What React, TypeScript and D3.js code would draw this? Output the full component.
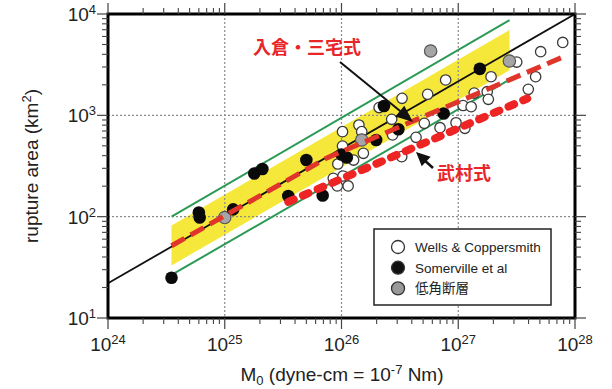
import React from "react";
import * as d3 from "d3";

// ---- data ----
const xDecades = [24, 25, 26, 27, 28];
const yDecades = [1, 2, 3, 4];

// Somerville et al (black)
const somM = [3.5e24, 6.0e24, 6.1e24, 1.18e25, 1.79e25, 2.1e25, 3.5e25, 5.0e25, 6.9e25, 1.0e26, 1.11e26, 1.98e26, 2.31e26, 3.07e26, 7.5e26, 1.53e27];
const somA = [25, 110, 98, 118, 267, 295, 160, 362, 162, 411, 384, 571, 1236, 728, 1042, 2877];

// low-angle faults (gray)
const lowM = [1.0e25, 1.49e26, 5.8e26, 2.74e27];
const lowA = [98, 571, 4315, 3436];

// Wells & Coppersmith (white)
const wcM = [9.3e25, 8.5e25, 9.2e25, 1.14e26, 1.27e26, 1.02e26, 1.02e26, 1.41e26, 1.49e26, 1.54e26, 2.1e26, 2.69e26, 2.74e26, 3.3e26, 4.35e26, 5.12e26, 5.47e26, 6.98e26, 7.8e26, 9.57e26, 1.1e27, 1.14e27, 1.29e27, 1.37e27, 1.77e27, 1.81e27, 1.91e27, 3.17e27, 3.98e27, 4.6e27, 5.08e27, 7.85e27, 3.28e26, 1.03e26];
const wcA = [331, 239, 201, 201, 362, 498, 690, 803, 690, 422, 1194, 914, 640, 1472, 607, 834, 1614, 755, 2233, 845, 1250, 745, 1216, 1660, 1710, 1439, 2404, 3357, 1807, 2404, 4246, 5236, 391, 252];

// relations (endpoints)
const blackLineM = [1e24, 1e28];
const blackLineA = [22, 1e4];
const bandM = [3.5e24, 2.75e27];
const bandLow = [33, 2780];
const bandHigh = [82, 6950];
const greenUpM = [3.5e24, 2.75e27];
const greenUpA = [100, 8700];
const greenLoM = [3.5e24, 2.75e27];
const greenLoA = [26.6, 2250];
const irikuraM = [3.5e24, 7.5e25, 7.9e27];
const irikuraA = [51.6, 380, 3770];
const takemuraM = [3.5e25, 3.9e27];
const takemuraA = [140, 1466];

const legendLabels = ["Wells & Coppersmith", "Somerville et al", "低角断層"];
const labelIrikura = "入倉・三宅式";
const labelTakemura = "武村式";

const W = 612, H = 389;
const X0 = 108, X1 = 575, Y0 = 14, Y1 = 318;

const x = d3.scaleLog().domain([1e24, 1e28]).range([X0, X1]);
const y = d3.scaleLog().domain([10, 1e4]).range([Y1, Y0]);

const zip = (ms: number[], as: number[]) => ms.map((m, i) => [m, as[i]] as [number, number]);
const line = d3.line<[number, number]>().x(d => x(d[0])).y(d => y(d[1]));

const minorX: number[] = [];
for (let e = 24; e < 28; e++) for (let k = 2; k <= 9; k++) minorX.push(k * Math.pow(10, e));
const minorY: number[] = [];
for (let e = 1; e < 4; e++) for (let k = 2; k <= 9; k++) minorY.push(k * Math.pow(10, e));

function arrowHead(tx: number, ty: number, fx: number, fy: number, len: number, half: number) {
  const a = Math.atan2(ty - fy, tx - fx);
  const bx = tx - len * Math.cos(a), by = ty - len * Math.sin(a);
  const px = -Math.sin(a) * half, py = Math.cos(a) * half;
  return `M${tx},${ty}L${bx + px},${by + py}L${bx - px},${by - py}Z`;
}

export default function App() {
  const font = "'Liberation Sans', Arial, Helvetica, sans-serif";
  const tickCol = "#444";
  const bandPath = (() => {
    const pts: [number, number][] = [
      [bandM[0], bandLow[0]], [bandM[1], bandLow[1]], [bandM[1], bandHigh[1]], [bandM[0], bandHigh[0]],
    ];
    return "M" + pts.map(p => `${x(p[0])},${y(p[1])}`).join("L") + "Z";
  })();

  const a1from = [340, 62], a1to = [413, 122];
  const a2from = [433, 168], a2to = [416, 152];

  return (
    <svg width={W} height={H} style={{ position: "absolute", left: 0, top: 0, background: "#fff" }} fontFamily={font}>
      <rect x={0} y={0} width={W} height={H} fill="#fff" />
      {/* band */}
      <path d={bandPath} fill="#f6e83a" />
      {/* grid */}
      {xDecades.slice(1, -1).map(e => (
        <line key={"gx" + e} x1={x(Math.pow(10, e))} x2={x(Math.pow(10, e))} y1={Y0} y2={Y1} stroke="#8a8a8a" strokeWidth={1.2} strokeDasharray="2,2" />
      ))}
      {yDecades.slice(1, -1).map(e => (
        <line key={"gy" + e} x1={X0} x2={X1} y1={y(Math.pow(10, e))} y2={y(Math.pow(10, e))} stroke="#8a8a8a" strokeWidth={1.2} strokeDasharray="2,2" />
      ))}
      {/* green lines */}
      <path d={line(zip(greenUpM, greenUpA)) || ""} stroke="#2a9a55" strokeWidth={2} fill="none" />
      <path d={line(zip(greenLoM, greenLoA)) || ""} stroke="#2a9a55" strokeWidth={2} fill="none" />
      {/* black relation */}
      <path d={line(zip(blackLineM, blackLineA)) || ""} stroke="#111" strokeWidth={1.8} fill="none" />
      {/* points */}
      {zip(wcM, wcA).map((d, i) => (
        <circle key={"w" + i} cx={x(d[0])} cy={y(d[1])} r={5.2} fill="#fff" stroke="#3a3a3a" strokeWidth={1.3} />
      ))}
      {zip(lowM, lowA).map((d, i) => (
        <circle key={"g" + i} cx={x(d[0])} cy={y(d[1])} r={6.2} fill="#a5a5a5" stroke="#555" strokeWidth={1.2} />
      ))}
      {zip(somM, somA).map((d, i) => (
        <circle key={"b" + i} cx={x(d[0])} cy={y(d[1])} r={6.3} fill="#0a0a0a" />
      ))}
      {/* red relations */}
      <path d={line(zip(irikuraM, irikuraA)) || ""} stroke="#e0352b" strokeWidth={5} fill="none" strokeDasharray="15,7" />
      <path d={line(zip(takemuraM, takemuraA)) || ""} stroke="#ee2324" strokeWidth={8} fill="none" strokeDasharray="6,10" strokeLinecap="round" />
      {/* frame */}
      <rect x={X0} y={Y0} width={X1 - X0} height={Y1 - Y0} fill="none" stroke="#000" strokeWidth={3} />
      {/* ticks */}
      {xDecades.map(e => {
        const px = x(Math.pow(10, e));
        return (
          <g key={"tx" + e}>
            <line x1={px} x2={px} y1={Y0} y2={Y0 - 11} stroke={tickCol} strokeWidth={1.2} />
            <line x1={px} x2={px} y1={Y1} y2={Y1 + 11} stroke={tickCol} strokeWidth={1.2} />
          </g>
        );
      })}
      {minorX.map((v, i) => {
        const px = x(v);
        return (
          <g key={"mx" + i}>
            <line x1={px} x2={px} y1={Y0} y2={Y0 - 6} stroke={tickCol} strokeWidth={1.1} />
            <line x1={px} x2={px} y1={Y1} y2={Y1 + 6} stroke={tickCol} strokeWidth={1.1} />
          </g>
        );
      })}
      {yDecades.map(e => {
        const py = y(Math.pow(10, e));
        return (
          <g key={"ty" + e}>
            <line x1={X0} x2={X0 - 11} y1={py} y2={py} stroke={tickCol} strokeWidth={1.2} />
            <line x1={X1} x2={X1 + 11} y1={py} y2={py} stroke={tickCol} strokeWidth={1.2} />
          </g>
        );
      })}
      {minorY.map((v, i) => {
        const py = y(v);
        return (
          <g key={"my" + i}>
            <line x1={X0} x2={X0 - 6} y1={py} y2={py} stroke={tickCol} strokeWidth={1.1} />
            <line x1={X1} x2={X1 + 6} y1={py} y2={py} stroke={tickCol} strokeWidth={1.1} />
          </g>
        );
      })}
      {/* tick labels */}
      {xDecades.map(e => (
        <text key={"lx" + e} x={x(Math.pow(10, e))} y={351} textAnchor="middle" fontSize={19} fill="#222">
          10<tspan fontSize={13} dy={-7}>{e}</tspan>
        </text>
      ))}
      {yDecades.map(e => (
        <text key={"ly" + e} x={96} y={y(Math.pow(10, e)) + 7} textAnchor="end" fontSize={19} fill="#222">
          10<tspan fontSize={13} dy={-7}>{e}</tspan>
        </text>
      ))}
      {/* axis titles */}
      <text x={342} y={381} textAnchor="middle" fontSize={19} fill="#222">
        M<tspan fontSize={13} dy={4}>0</tspan><tspan dy={-4}> (dyne-cm = 10</tspan><tspan fontSize={13} dy={-7}>-7</tspan><tspan dy={7}> Nm)</tspan>
      </text>
      <text transform="translate(38,166) rotate(-90)" textAnchor="middle" fontSize={19} fill="#222">
        rupture area (km<tspan fontSize={13} dy={-7}>2</tspan><tspan dy={7}>)</tspan>
      </text>
      {/* annotations */}
      <text x={307} y={54} textAnchor="middle" fontSize={18} fontWeight="bold" fill="#e8262a" fontFamily="'Noto Sans CJK JP', sans-serif">{labelIrikura}</text>
      <line x1={a1from[0]} y1={a1from[1]} x2={a1to[0] - 8} y2={a1to[1] - 7} stroke="#111" strokeWidth={2} />
      <path d={arrowHead(a1to[0], a1to[1], a1from[0], a1from[1], 17, 7)} fill="#111" />
      <text x={464} y={180} textAnchor="middle" fontSize={18} fontWeight="bold" fill="#e8262a" fontFamily="'Noto Sans CJK JP', sans-serif">{labelTakemura}</text>
      <line x1={a2from[0]} y1={a2from[1]} x2={a2to[0] + 6} y2={a2to[1] + 6} stroke="#111" strokeWidth={2.5} />
      <path d={arrowHead(a2to[0], a2to[1], a2from[0], a2from[1], 14, 6.5)} fill="#111" />
      {/* legend */}
      <rect x={374} y={229} width={177} height={76} fill="#fff" stroke="#222" strokeWidth={1.5} />
      {legendLabels.map((t, i) => {
        const cy = 247 + i * 20.7;
        const fill = i === 0 ? "#fff" : i === 1 ? "#111" : "#999";
        return (
          <g key={"lg" + i}>
            <circle cx={398} cy={cy} r={6.5} fill={fill} stroke="#333" strokeWidth={1.3} />
            <text x={415} y={cy + 5} fontSize={13.5} fill="#222" fontFamily={i === 2 ? "'Noto Sans CJK JP', sans-serif" : font}>{t}</text>
          </g>
        );
      })}
    </svg>
  );
}
